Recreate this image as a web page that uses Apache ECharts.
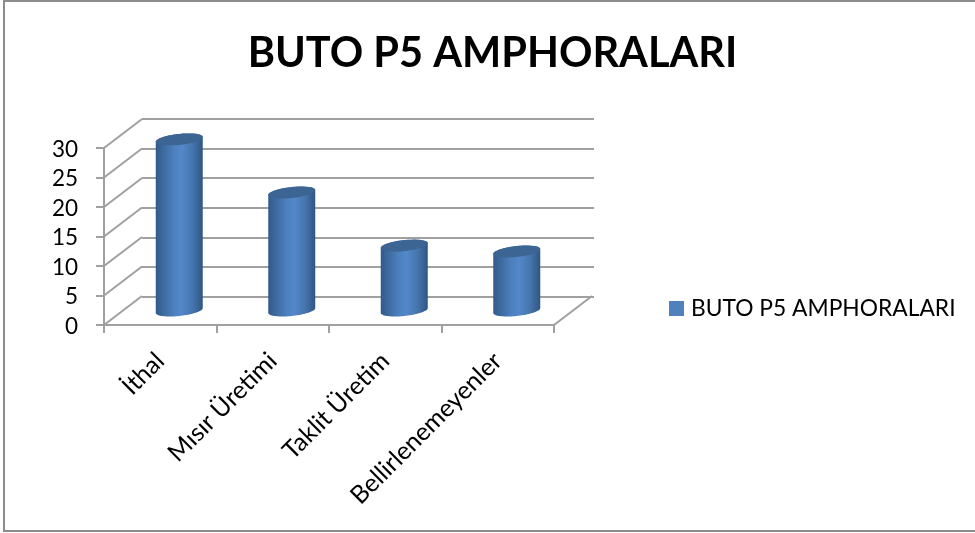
<!DOCTYPE html>
<html><head><meta charset="utf-8">
<style>html,body{margin:0;padding:0;background:#fff}#c{width:975px;height:533px}</style>
<script src="https://cdn.jsdelivr.net/npm/echarts@6/dist/echarts.min.js"></script>
</head><body><div id="c"></div>
<script>
const titleText = 'BUTO P5 AMPHORALARI';
const seriesName = 'BUTO P5 AMPHORALARI';
const categories = ['İthal', 'Mısır Üretimi', 'Taklit Üretim', 'Bellirlenemeyenler'];
const values = [29, 20, 11, 10];
const yTicks = [0, 5, 10, 15, 20, 25, 30];

const FONT = 'Lato';
const LINE = '#a0a0a0';
const DX = 38, DY = -29;          // full depth of the 3D box
const RX = 23.5, RY = 5.5, SHEAR = 2.4;

function ellipsePts(cx, cy, from, to) {
  const pts = [];
  const n = 40;
  for (let i = 0; i <= n; i++) {
    const t = from + (to - from) * i / n;
    pts.push([cx + RX * Math.cos(t), cy + RY * Math.sin(t) - SHEAR * Math.cos(t)]);
  }
  return pts;
}

function renderCylinder(params, api) {
  const p0 = api.coord([api.value(0), 0]);
  const p1 = api.coord([api.value(0), api.value(1)]);
  const cx = p0[0] + DX / 2, by = p0[1] + DY / 2, ty = p1[1] + DY / 2;
  const front = ellipsePts(cx, by, 0, Math.PI);
  const topSide = ellipsePts(cx, ty, Math.PI, 2 * Math.PI);
  return {
    type: 'group',
    children: [
      { type: 'polygon', shape: { points: front.concat(topSide) },
        style: { fill: new echarts.graphic.LinearGradient(0, 0, 1, 0, [
          { offset: 0, color: '#315a8a' },
          { offset: 0.12, color: '#3b6799' },
          { offset: 0.38, color: '#4c7fbd' },
          { offset: 0.55, color: '#5388ca' },
          { offset: 0.78, color: '#4675ae' },
          { offset: 0.94, color: '#355f90' },
          { offset: 1, color: '#305682' }
        ]) } },
      { type: 'polygon', shape: { points: ellipsePts(cx, ty, 0, 2 * Math.PI) },
        style: { fill: '#3c6594' } }
    ]
  };
}

function renderDepthLine(params, api) {
  const p = api.coord([0, api.value(0)]);
  const x = params.coordSys.x;
  return { type: 'line', shape: { x1: x, y1: p[1], x2: x + DX, y2: p[1] + DY },
    style: { stroke: LINE, lineWidth: 2 }, silent: true };
}
function renderFloorEdge(params, api) {
  const p = api.coord([0, 0]);
  const x = params.coordSys.x + params.coordSys.width;
  return { type: 'line', shape: { x1: x, y1: p[1], x2: x + DX, y2: p[1] + DY },
    style: { stroke: LINE, lineWidth: 2 }, silent: true };
}

const chart = echarts.init(document.getElementById('c'), null, { renderer: 'canvas' });
chart.setOption({
  animation: false,
  backgroundColor: '#fff',
  title: { text: titleText, left: 487.5, top: 28, textAlign: 'center',
    textStyle: { fontFamily: FONT, fontSize: 41.5, fontWeight: 'bold', color: '#000' } },
  legend: { data: [{ name: seriesName, icon: 'rect' }], left: 669, top: 297,
    itemWidth: 15, itemHeight: 15, itemGap: 7, padding: 0,
    textStyle: { fontFamily: FONT, fontSize: 22.8, color: '#000', padding: [3, 0, 0, 2] } },
  graphic: [{ type: 'rect', shape: { x: 4, y: 1, width: 985, height: 530 },
    style: { fill: 'none', stroke: '#8c8c8c', lineWidth: 2 }, silent: true, z: -10 }],
  grid: [
    { left: 104, width: 450, top: 148, height: 177 },
    { left: 142, width: 452, top: 119, height: 177.5 }
  ],
  xAxis: [
    { type: 'category', gridIndex: 0, data: categories, boundaryGap: true,
      axisLine: { lineStyle: { color: LINE, width: 2 } },
      axisTick: { show: true, alignWithLabel: false, length: 8, lineStyle: { color: LINE, width: 2 } },
      axisLabel: { rotate: 45, interval: 0, margin: 32, fontFamily: FONT, fontSize: 24.8, color: '#000' } },
    { type: 'category', gridIndex: 1, data: categories, show: false }
  ],
  yAxis: [
    { type: 'value', gridIndex: 0, min: 0, max: 30, interval: 5,
      axisLine: { show: true, lineStyle: { color: LINE, width: 2 } },
      axisTick: { show: true, length: 8, lineStyle: { color: LINE, width: 2 } },
      splitLine: { show: false },
      axisLabel: { margin: 26, verticalAlign: 'bottom', padding: [0, 0, -13, 0], fontFamily: FONT, fontSize: 22.5, color: '#000' } },
    { type: 'value', gridIndex: 1, min: 0, max: 30, interval: 5,
      axisLine: { show: false }, axisTick: { show: false }, axisLabel: { show: false },
      splitLine: { show: true, lineStyle: { color: LINE, width: 2 } } }
  ],
  series: [
    { name: 'depth', type: 'custom', xAxisIndex: 0, yAxisIndex: 0, z: 1, silent: true,
      data: yTicks.map(v => [v]), encode: { y: 0 }, renderItem: renderDepthLine, clip: false },
    { name: 'floor', type: 'custom', xAxisIndex: 0, yAxisIndex: 0, z: 1, silent: true,
      data: [[0]], encode: { y: 0 }, renderItem: renderFloorEdge, clip: false },
    { name: seriesName, type: 'custom', xAxisIndex: 0, yAxisIndex: 0, z: 3, clip: false,
      itemStyle: { color: '#4f81bd' },
      data: values.map((v, i) => [i, v]), encode: { x: 0, y: 1 }, renderItem: renderCylinder }
  ]
});
</script></body></html>
